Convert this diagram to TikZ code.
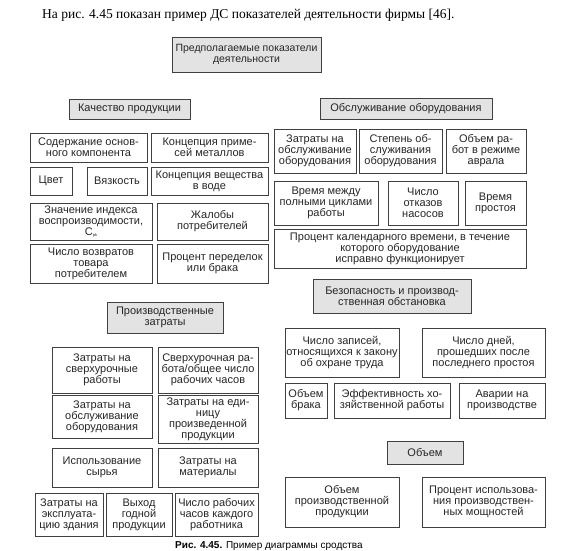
\documentclass[tikz,border=0pt]{standalone}
\usepackage{fontspec}
\setmainfont{Liberation Serif}
\setsansfont{Liberation Sans}
\usetikzlibrary{positioning}

\begin{document}
\begin{tikzpicture}[
          x=1pt, y=-1pt,
          font=\sffamily\fontsize{11}{11}\selectfont,
          head/.style={rectangle, draw=black!75, fill=black!11, align=center,
              inner sep=0.5pt, line width=0.8pt, text=black!85},
          item/.style={rectangle, draw=black!75, fill=white, align=center,
              inner sep=0.5pt, line width=0.8pt, text=black!85},
          wh/.style 2 args={minimum width=#1pt, minimum height=#2pt}
      ]
      \useasboundingbox[fill=white] (0,0) rectangle (576,551);
      \node[anchor=base west, font=\rmfamily\fontsize{13.5}{15}\selectfont, inner sep=0pt] (intro) at (42,18.5)
          {На рис. 4.45 показан пример ДС показателей деятельности фирмы [46].};
      \node[head, wh={149}{35}, font=\sffamily\fontsize{10.5}{11.5}\selectfont] (root) at (246.5,54.5) {Предполагаемые показатели\\деятельности};
      % quality
      \node[head, wh={121}{20}] (qual) at (129.5,109) {Качество продукции};
      \node[item, wh={117}{29}] (q1) at (88.5,147.5) {Содержание основ-\\ного компонента};
      \node[item, wh={117}{29}] (q2) at (209.5,147.5) {Концепция приме-\\сей металлов};
      \node[item, wh={42}{28}]  (q3) at (51,181) {Цвет};
      \node[item, wh={60}{28}]  (q4) at (117,181) {Вязкость};
      \node[item, wh={117}{28}] (q5) at (209.5,181) {Концепция вещества\\в воде};
      \node[item, wh={122}{37}] (q6) at (91,221.5) {Значение индекса\\воспроизводимости,\\C{\fontsize{4}{4}\selectfont\raisebox{-1pt}{pk}}};
      \node[item, wh={111}{37}] (q7) at (212.5,221.5) {Жалобы\\потребителей};
      \node[item, wh={122}{39}] (q8) at (91,263.5) {Число возвратов\\товара\\потребителем};
      \node[item, wh={111}{39}] (q9) at (212.5,263.5) {Процент переделок\\или брака};
      % maintenance
      \node[head, wh={172}{21}] (maint) at (406,108.5) {Обслуживание оборудования};
      \node[item, wh={82}{44}]  (m1) at (315,151) {Затраты на\\обслуживание\\оборудования};
      \node[item, wh={83}{44}]  (m2) at (400.5,151) {Степень об-\\служивания\\оборудования};
      \node[item, wh={80}{44}]  (m3) at (486,151) {Объем ра-\\бот в режиме\\аврала};
      \node[item, wh={104}{44}] (m4) at (326,203) {Время между\\полными циклами\\работы};
      \node[item, wh={70}{44}]  (m5) at (423,203) {Число\\отказов\\насосов};
      \node[item, wh={61}{44}]  (m6) at (495.5,203) {Время\\простоя};
      \node[item, wh={252}{39}] (m7) at (400,248.5) {Процент календарного времени, в течение\\которого оборудование\\исправно функционирует};
      % safety
      \node[head, wh={158}{34}] (safe) at (392,296) {Безопасность и производ-\\ственная обстановка};
      \node[item, wh={114}{49}] (s1) at (342,352.5) {Число записей,\\относящихся к закону\\об охране труда};
      \node[item, wh={123}{49}] (s2) at (483.5,352.5) {Число дней,\\прошедших после\\последнего простоя};
      \node[item, wh={42}{35}]  (s3) at (306,400.5) {Объем\\брака};
      \node[item, wh={116}{35}] (s4) at (392,400.5) {Эффективность хо-\\зяйственной работы};
      \node[item, wh={86}{35}]  (s5) at (502,400.5) {Аварии на\\производстве};
      % volume
      \node[head, wh={76}{23}]  (vol) at (425,452.5) {Объем};
      \node[item, wh={114}{50}] (v1) at (342,502) {Объем\\производственной\\продукции};
      \node[item, wh={123}{50}] (v2) at (483.5,502) {Процент использова-\\ния производствен-\\ных мощностей};
      % production costs
      \node[head, wh={116}{31}] (prod) at (165,317.5) {Производственные\\затраты};
      \node[item, wh={100}{46}] (p1) at (102,370) {Затраты на\\сверхурочные\\работы};
      \node[item, wh={100}{46}] (p2) at (208,370) {Сверхурочная ра-\\бота/общее число\\рабочих часов};
      \node[item, wh={100}{43}] (p3) at (102,416.5) {Затраты на\\обслуживание\\оборудования};
      \node[item, wh={100}{48}] (p4) at (208,419) {Затраты на еди-\\ницу\\произведенной\\продукции};
      \node[item, wh={100}{39}] (p5) at (102,467.5) {Использование\\сырья};
      \node[item, wh={100}{39}] (p6) at (208,467.5) {Затраты на\\материалы};
      \node[item, wh={68}{43}]  (p7) at (69,514.5) {Затраты на\\эксплуата-\\цию здания};
      \node[item, wh={66}{43}]  (p8) at (139,514.5) {Выход\\годной\\продукции};
      \node[item, wh={83}{43}]  (p9) at (216.5,514.5) {Число рабочих\\часов каждого\\работника};
      \node[anchor=base west, inner sep=0pt, font=\sffamily\fontsize{10}{12}\selectfont] (cap) at (175,548.3)
          {\textbf{Рис. 4.45.} Пример диаграммы сродства};
      \end{tikzpicture}
\end{document}
